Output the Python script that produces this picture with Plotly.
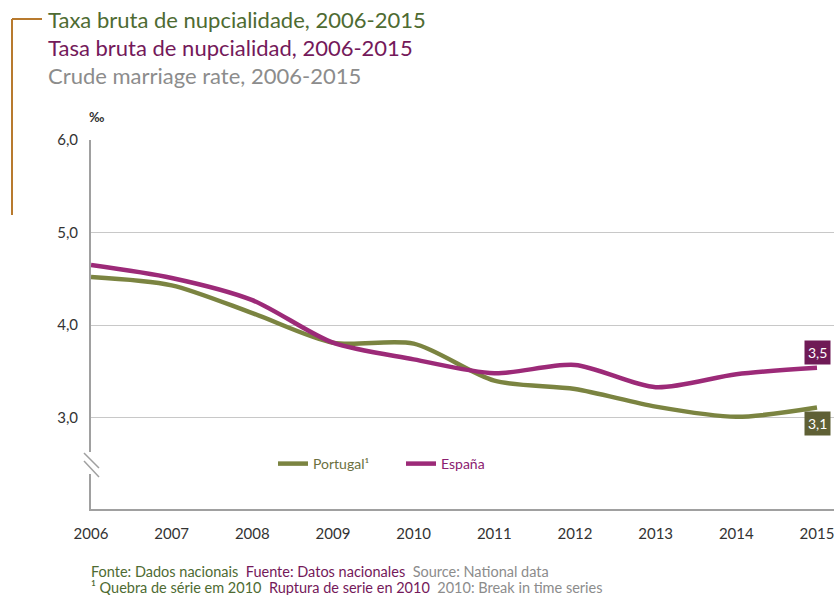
import plotly.graph_objects as go

years = [2006, 2007, 2008, 2009, 2010, 2011, 2012, 2013, 2014, 2015]
portugal = [4.52, 4.43, 4.13, 3.81, 3.80, 3.40, 3.31, 3.12, 3.01, 3.11]
espana = [4.65, 4.51, 4.27, 3.81, 3.63, 3.48, 3.57, 3.33, 3.47, 3.54]
y_ticks = [3.0, 4.0, 5.0, 6.0]
y_tick_labels = ["3,0", "4,0", "5,0", "6,0"]

FONT = "Lato"
C_PT = "#7b8441"
C_ES = "#9c2a78"
C_PT_TXT = "#4e6b32"
C_ES_TXT = "#74195a"
C_GRAY = "#8c8c8c"

fig = go.Figure()
fig.add_trace(go.Scatter(
    x=years, y=portugal, mode="lines", line=dict(color=C_PT, width=4.5, shape="spline", smoothing=0.8),
    name="<span style='color:#6b7040'>Portugal¹</span>"))
fig.add_trace(go.Scatter(
    x=years, y=espana, mode="lines", line=dict(color=C_ES, width=4.5, shape="spline", smoothing=0.8),
    name="<span style='color:#8b2070'>España</span>"))

def fmt(v):
    return f"{v:.1f}".replace(".", ",")

fig.add_annotation(x=years[-1], y=espana[-1], xref="x", yref="y", text=fmt(espana[-1]),
                   showarrow=False, yshift=15, bgcolor="#6f1a56", font=dict(color="white", size=14, family=FONT),
                   borderpad=3, xanchor="center")
fig.add_annotation(x=years[-1], y=portugal[-1], xref="x", yref="y", text=fmt(portugal[-1]),
                   showarrow=False, yshift=-16, bgcolor="#5f6035", font=dict(color="white", size=14, family=FONT),
                   borderpad=3, xanchor="center")

H = 595
PLOT_TOP = 140
PLOT_BOT = 509
W = 834
L = 91
def py(pix):
    return (PLOT_BOT - pix) / (PLOT_BOT - PLOT_TOP)
def px(pix):
    return (pix - L) / (W - L)

titles = [("Taxa bruta de nupcialidade, 2006-2015", C_PT_TXT, 19),
          ("Tasa bruta de nupcialidad, 2006-2015", C_ES_TXT, 47),
          ("Crude marriage rate, 2006-2015", C_GRAY, 75)]
for t, c, yy in titles:
    fig.add_annotation(x=px(46), y=py(yy), xref="paper", yref="paper", text=t, showarrow=False,
                       xanchor="left", yanchor="middle", font=dict(color=c, size=22, family=FONT))

# bracket
fig.add_shape(type="line", xref="paper", yref="paper", x0=px(12), x1=px(42), y0=py(19), y1=py(19),
              line=dict(color="#b87a2e", width=2))
fig.add_shape(type="line", xref="paper", yref="paper", x0=px(12), x1=px(12), y0=py(19), y1=py(215),
              line=dict(color="#b87a2e", width=2))

# per mille label
fig.add_annotation(x=px(96), y=py(117), xref="paper", yref="paper", text="<b>‰</b>", showarrow=False,
                   xanchor="center", yanchor="middle", font=dict(color="#333333", size=13, family=FONT))

# axis break
fig.add_shape(type="rect", xref="paper", yref="paper", x0=px(85), x1=px(97), y0=py(474), y1=py(452),
              fillcolor="white", line=dict(width=0), layer="above")
fig.add_shape(type="line", xref="paper", yref="paper", x0=px(84), x1=px(99), y0=py(453), y1=py(468),
              line=dict(color="#a0a0a0", width=1.5), layer="above")
fig.add_shape(type="line", xref="paper", yref="paper", x0=px(84), x1=px(99), y0=py(461), y1=py(477),
              line=dict(color="#a0a0a0", width=1.5), layer="above")

# footer
foot1 = (f"<span style='color:{C_PT_TXT}'>Fonte: Dados nacionais</span>  "
         f"<span style='color:{C_ES_TXT}'>Fuente: Datos nacionales</span>  "
         f"<span style='color:{C_GRAY}'>Source: National data</span>")
foot2 = (f"<span style='color:{C_PT_TXT}'>¹ Quebra de série em 2010</span>  "
         f"<span style='color:{C_ES_TXT}'>Ruptura de serie en 2010</span>  "
         f"<span style='color:{C_GRAY}'>2010: Break in time series</span>")
fig.add_annotation(x=px(89), y=py(571), xref="paper", yref="paper", text=foot1, showarrow=False,
                   xanchor="left", yanchor="middle", font=dict(size=14.5, family=FONT))
fig.add_annotation(x=px(89), y=py(587), xref="paper", yref="paper", text=foot2, showarrow=False,
                   xanchor="left", yanchor="middle", font=dict(size=14.5, family=FONT))

x_max = 2015 + (W - 817) / ((817 - L) / 9)
fig.update_layout(
    width=W, height=H, margin=dict(l=L, r=0, t=PLOT_TOP, b=H - PLOT_BOT),
    plot_bgcolor="white", paper_bgcolor="white",
    font=dict(family=FONT, size=14, color="#333333"),
    showlegend=True,
    legend=dict(orientation="h", x=px(273), y=py(464), xanchor="left", yanchor="middle",
                font=dict(size=14, family=FONT), bgcolor="rgba(0,0,0,0)", entrywidth=83, itemwidth=30),
    xaxis=dict(range=[2006, x_max], tickmode="array", tickvals=years, ticktext=[str(y) for y in years],
               showgrid=False, zeroline=False, showline=True, linecolor="#a0a0a0", linewidth=2,
               ticks="", tickfont=dict(size=15, color="#333333"), ticklabelstandoff=10,
               ticklabeloverflow="allow"),
    yaxis=dict(range=[2.014, 6.0], tickmode="array", tickvals=y_ticks, ticktext=y_tick_labels,
               showgrid=True, gridcolor="#c8c8c8", gridwidth=1, zeroline=False,
               showline=True, linecolor="#a0a0a0", linewidth=2, ticks="",
               tickfont=dict(size=15, color="#333333"), ticklabelstandoff=8),
)

fig.write_html("out.html", config={"displayModeBar": False},
               post_script="document.body.style.margin='0';document.body.style.overflow='hidden';")
